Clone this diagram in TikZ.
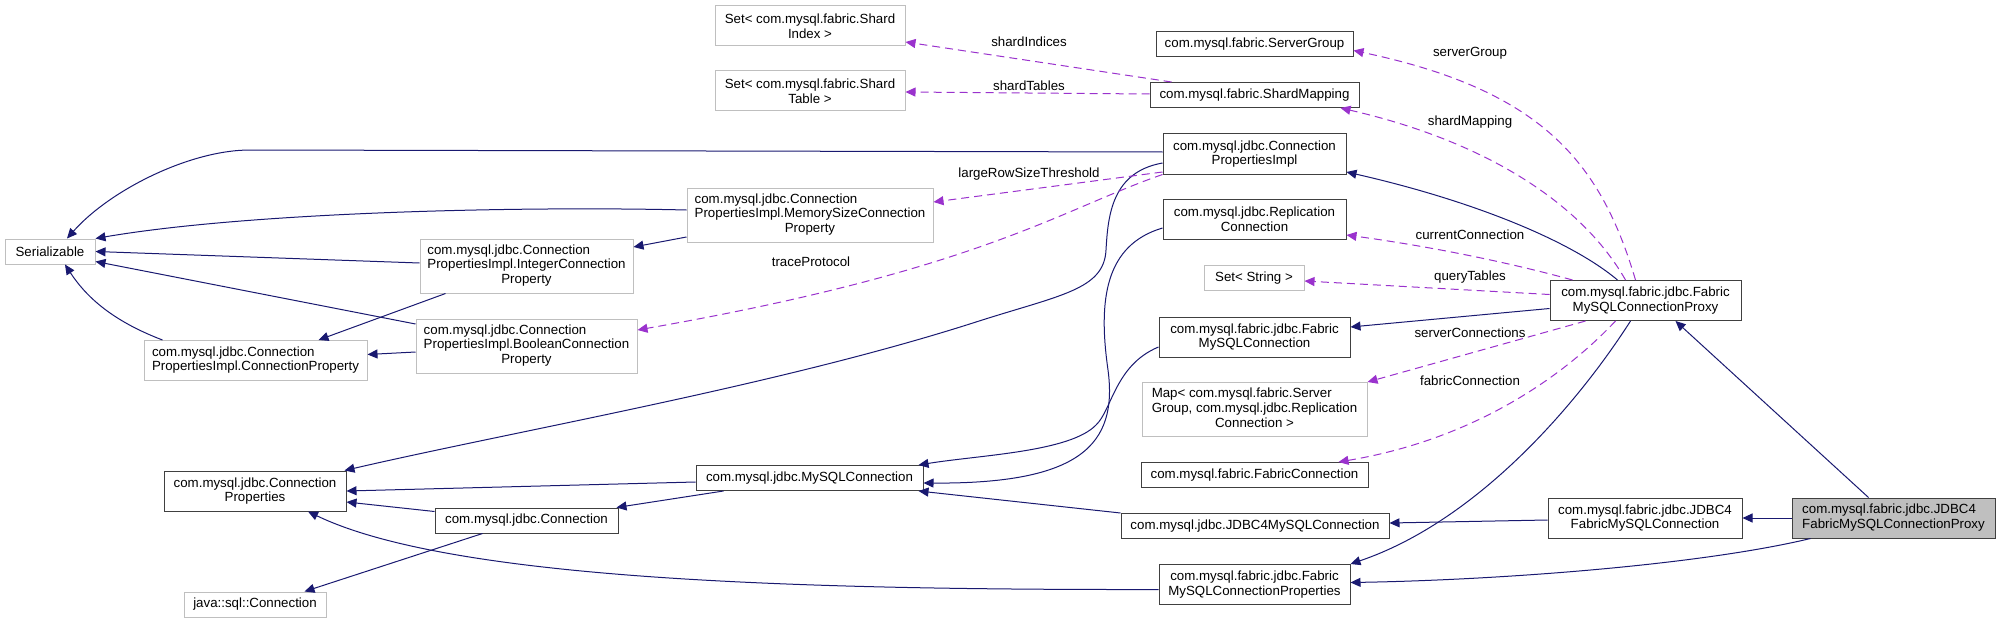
\documentclass[tikz,border=0pt]{standalone}
\usepackage{fontspec}
\setmainfont{Liberation Sans}
\usetikzlibrary{arrows.meta}
\definecolor{edgeblue}{HTML}{191970}
\definecolor{usepurple}{HTML}{9A32CD}
\definecolor{boxgray}{HTML}{BFBFBF}
% ostatni wiersz wysrodkowany w etykiecie wyrownanej do lewej
\newcommand{\midline}[1]{\multicolumn{1}{@{}c@{}}{#1}}

\begin{document}
\begin{tikzpicture}[x=1pt, y=-1pt, line width=1pt,
  cls/.style={draw=black!75, fill=white, rectangle, inner sep=2pt, align=center,
    font=\fontsize{13.3}{14.7}\selectfont},
  ext/.style={cls, draw=boxgray},
  focus/.style={cls, fill=boxgray},
  one/.style={minimum height=25pt},
  two/.style={minimum height=40pt},
  three/.style={minimum height=54pt},
  wd/.style={minimum width=#1pt},
  lbl/.style={font=\fontsize{13.3}{14.7}\selectfont, inner sep=1pt},
  inh/.style={draw=edgeblue, -{Triangle[length=10pt,width=9pt]}},
  usage/.style={draw=usepurple, dash pattern=on 8pt off 5pt, -{Triangle[length=10pt,width=9pt]}}]

\useasboundingbox (0,0) rectangle (1996,623);

% ---------- Klasy: kolumna lewa ----------
\node[ext, one, wd=90] (ser) at (50,251.5) {Serializable};
\node[ext, two, wd=223] (connprop) at (255.5,360.5) {\begin{tabular}{@{}l@{}}com.mysql.jdbc.Connection\\PropertiesImpl.ConnectionProperty\end{tabular}};
\node[cls, two, wd=182] (connprops) at (255,491) {com.mysql.jdbc.Connection\\Properties};
\node[ext, one, wd=142] (javaconn) at (255,604.5) {java::sql::Connection};

% ---------- Klasy: kolumna druga ----------
\node[ext, three, wd=213] (intcp) at (526.5,266) {\begin{tabular}{@{}l@{}}com.mysql.jdbc.Connection\\PropertiesImpl.IntegerConnection\\\midline{Property}\end{tabular}};
\node[ext, three, wd=221] (boolcp) at (526.5,346) {\begin{tabular}{@{}l@{}}com.mysql.jdbc.Connection\\PropertiesImpl.BooleanConnection\\\midline{Property}\end{tabular}};
\node[cls, one, wd=183] (jconn) at (526.5,520.5) {com.mysql.jdbc.Connection};

% ---------- Klasy: kolumna srodkowa ----------
\node[ext, two, wd=190] (shardidx) at (810,26) {Set< com.mysql.fabric.Shard\\Index >};
\node[ext, two, wd=190] (shardtbl) at (810,91) {Set< com.mysql.fabric.Shard\\Table >};
\node[ext, three, wd=246] (memsize) at (810,215) {\begin{tabular}{@{}l@{}}com.mysql.jdbc.Connection\\PropertiesImpl.MemorySizeConnection\\\midline{Property}\end{tabular}};
\node[cls, one, wd=227] (mysqlconn) at (809.5,478) {com.mysql.jdbc.MySQLConnection};

% ---------- Klasy: kolumna prawa ----------
\node[cls, one, wd=197] (srvgroup) at (1254.5,44.5) {com.mysql.fabric.ServerGroup};
\node[cls, one, wd=209] (shardmap) at (1254.5,95) {com.mysql.fabric.ShardMapping};
\node[cls, two, wd=183] (cpimpl) at (1254.5,154) {com.mysql.jdbc.Connection\\PropertiesImpl};
\node[cls, two, wd=183] (replconn) at (1254.5,219) {com.mysql.jdbc.Replication\\Connection};
\node[ext, one, wd=100] (setstr) at (1254,278) {Set< String >};
\node[cls, two, wd=191] (fconn) at (1254.5,337) {com.mysql.fabric.jdbc.Fabric\\MySQLConnection};
\node[ext, three, wd=225] (map) at (1254.5,409.5) {\begin{tabular}{@{}l@{}}Map< com.mysql.fabric.Server\\Group, com.mysql.jdbc.Replication\\\midline{Connection >}\end{tabular}};
\node[cls, one, wd=227] (fabconn) at (1254.5,475) {com.mysql.fabric.FabricConnection};
\node[cls, one, wd=268] (jdbc4my) at (1255,526) {com.mysql.jdbc.JDBC4MySQLConnection};
\node[cls, two, wd=191] (fmcp) at (1254.5,584.5) {com.mysql.fabric.jdbc.Fabric\\MySQLConnectionProperties};

% ---------- Klasy: proxy ----------
\node[cls, two, wd=191] (fproxy) at (1645.5,300.5) {com.mysql.fabric.jdbc.Fabric\\MySQLConnectionProxy};
\node[cls, two, wd=194] (j4fconn) at (1645,518) {com.mysql.fabric.jdbc.JDBC4\\FabricMySQLConnection};
\node[focus, two, wd=203] (j4proxy) at (1893.5,518) {\begin{tabular}{@{}l@{}}com.mysql.fabric.jdbc.JDBC4\\FabricMySQLConnectionProxy\end{tabular}};

% ---------- Dziedziczenie ----------
\draw[inh] ([yshift=2pt]cpimpl.west) -- (250,150) .. controls (190,150) and (110,190) .. ([xshift=17pt]ser.north);
\draw[inh] ([yshift=5pt]memsize.west) .. controls (520,206) and (250,212) .. (ser.north east);
\draw[inh] ([yshift=3pt]intcp.west) -- (ser.east);
\draw[inh] ([yshift=22pt]boolcp.west) -- ([yshift=-10pt]ser.east);
\draw[inh] ([xshift=19pt]connprop.north west) .. controls (110,320) and (85,295) .. ([xshift=15pt]ser.south);
\draw[inh] ([yshift=-22pt]memsize.west) -- ([yshift=19pt]intcp.east);
\draw[inh] ([xshift=26pt]intcp.south west) -- ([xshift=-49pt]connprop.north east);
\draw[inh] ([yshift=-6pt]boolcp.west) -- ([yshift=6pt]connprop.east);
\draw[inh] ([yshift=-9pt]cpimpl.west) .. controls (1112,172) and (1108,215) .. (1106,250)
  .. controls (1104,290) and (1060,295) .. (976,322)
  .. controls (780,385) and (520,430) .. ([xshift=-2pt]connprops.north east);
\draw[inh] ([yshift=-9pt]replconn.west) .. controls (1105,245) and (1098,300) .. (1108,370)
  .. controls (1118,445) and (1080,484) .. ([yshift=-5pt]mysqlconn.east);
\draw[inh] ([yshift=-10pt]fconn.west) .. controls (1115,365) and (1112,410) .. (1096,425)
  .. controls (1070,452) and (980,455) .. ([xshift=-5pt]mysqlconn.north east);
\draw[inh] ([yshift=-4pt]mysqlconn.west) -- (connprops.east);
\draw[inh] ([xshift=28pt]mysqlconn.south west) -- ([xshift=-2pt]jconn.north east);
\draw[inh] ([yshift=9pt]jconn.west) -- ([yshift=-11pt]connprops.east);
\draw[inh] ([xshift=-44pt]jconn.south) -- ([xshift=-22pt]javaconn.north east);
\draw[inh] ([yshift=-5pt]fmcp.west) .. controls (800,590) and (450,580) .. ([xshift=53pt]connprops.south);
\draw[inh] (jdbc4my.north west) -- ([xshift=-5pt]mysqlconn.south east);
\draw[inh] ([xshift=-28pt]fproxy.north) .. controls (1570,240) and (1470,200) .. ([yshift=-18pt]cpimpl.east);
\draw[inh] ([yshift=-8pt]fproxy.west) -- ([yshift=10pt]fconn.east);
\draw[inh] ([xshift=-15pt]fproxy.south) .. controls (1580,400) and (1480,520) .. (fmcp.north east);
\draw[inh] ([yshift=-2pt]j4fconn.west) -- ([yshift=3pt]jdbc4my.east);
\draw[inh] (j4proxy.west) -- (j4fconn.east);
\draw[inh] ([xshift=-25pt]j4proxy.north) -- ([xshift=30pt]fproxy.south);
\draw[inh] ([xshift=19pt]j4proxy.south west) .. controls (1700,565) and (1500,580) .. ([yshift=2pt]fmcp.east);

% ---------- Pola (uzycie) ----------
\draw[usage] ([xshift=22pt]shardmap.north west) -- ([yshift=-16pt]shardidx.east);
\draw[usage] ([yshift=1pt]shardmap.west) -- ([yshift=-1pt]shardtbl.east);
\draw[usage] ([yshift=-18pt]cpimpl.west) -- ([yshift=13pt]memsize.east);
\draw[usage] (cpimpl.south west) .. controls (1060,210) and (980,270) .. ([yshift=16pt]boolcp.east);
\draw[usage] ([xshift=-10pt]fproxy.north) .. controls (1600,160) and (1540,90) .. ([yshift=-6pt]srvgroup.east);
\draw[usage] ([xshift=-20pt]fproxy.north) .. controls (1580,200) and (1480,140) .. ([xshift=-19pt]shardmap.south east);
\draw[usage] ([xshift=-73pt]fproxy.north) .. controls (1500,260) and (1420,245) .. ([yshift=-16pt]replconn.east);
\draw[usage] ([yshift=6pt]fproxy.west) -- ([yshift=-3pt]setstr.east);
\draw[usage] ([xshift=-60pt]fproxy.south) -- (map.north east);
\draw[usage] ([xshift=-30pt]fproxy.south) .. controls (1560,380) and (1470,440) .. ([xshift=-30pt]fabconn.north east);

% ---------- Etykiety ----------
\node[lbl] (lshardidx) at (1029,42) {shardIndices};
\node[lbl] (lshardtbl) at (1029,86) {shardTables};
\node[lbl] (llargerow) at (1029,174) {largeRowSizeThreshold};
\node[lbl] (ltrace) at (811,262) {traceProtocol};
\node[lbl] (lsrvgroup) at (1470,53) {serverGroup};
\node[lbl] (lshardmap) at (1470,122) {shardMapping};
\node[lbl] (lcurconn) at (1470,235) {currentConnection};
\node[lbl] (lquery) at (1470,277) {queryTables};
\node[lbl] (lsrvconns) at (1470,333) {serverConnections};
\node[lbl] (lfabconn) at (1470,381) {fabricConnection};

\end{tikzpicture}
\end{document}
